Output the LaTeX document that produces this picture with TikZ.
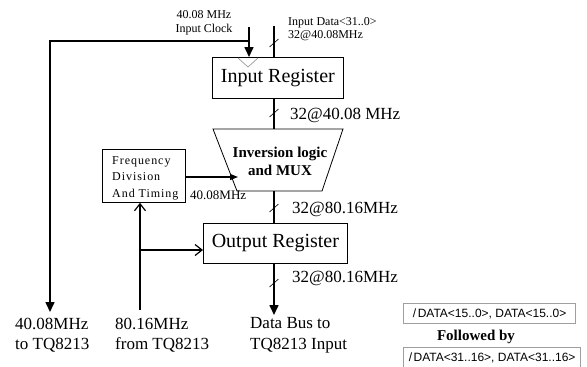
\documentclass[tikz,border=0pt]{standalone}
\usepackage{fontspec}
\setmainfont{Liberation Serif}
\newfontfamily\arialf{Liberation Sans}
\newfontfamily\freqf[LetterSpace=8]{Liberation Serif}
\usetikzlibrary{arrows.meta}
\begin{document}
\begin{tikzpicture}[x=1pt,y=-1pt,
  regbox/.style={draw, line width=0.8pt, inner sep=0pt, anchor=north west, font=\fontsize{20}{24}\selectfont},
  wire/.style={line width=1.6pt},
  fill tip/.style={-{Triangle[length=10pt,width=9pt]}},
  open tip/.style={-{Straight Barb[length=7pt,width=11pt,line width=1.2pt]}},
  lbl/.style={anchor=west, inner sep=0pt},
  big/.style={font=\fontsize{17}{20}\selectfont},
  small/.style={font=\fontsize{12}{14}\selectfont},
  databox/.style={draw=gray!75, line width=1.2pt, inner sep=0pt, anchor=north west, font=\arialf\fontsize{12}{14}\selectfont},
  busmark/.pic={\draw[line width=0.6pt] (-4.5,4) -- (4.5,-4);}
]
\useasboundingbox (0,0) rectangle (587,367);
\clip (0,0) rectangle (587,367);

% boxes
\node[regbox, minimum width=131pt, minimum height=41pt] (inreg) at (212,57) {Input Register};
\node[regbox, minimum width=144pt, minimum height=40pt] (outreg) at (203,223) {Output Register};
\node[draw, line width=0.8pt, anchor=north west, minimum width=83pt, minimum height=53pt, inner sep=0pt] (freq) at (102,149) {};
\node[anchor=north west, inner sep=0pt, align=left, font=\freqf\fontsize{12}{16.5}\selectfont] (freqtxt) at (112,156) {Frequency\\Division\\And Timing};

% mux trapezoid
\coordinate (mtl) at (213,129);
\coordinate (mtr) at (343,129);
\coordinate (mbr) at (322,191);
\coordinate (mbl) at (237,191);
\draw[line width=0.8pt] (mtl) -- (mtr) -- (mbr) -- (mbl) -- cycle;
\node[align=center, font=\bfseries\fontsize{15}{18}\selectfont, inner sep=0pt] (mux) at (280,161) {Inversion logic\\and MUX};
\coordinate (muxtop) at (274,129);
\coordinate (muxbot) at (274,191);
\coordinate (muxin) at (238,177);

% clock
\coordinate (clkin) at (249,27);
\coordinate (clkbr) at (249,41);
\coordinate (clkleft) at (50,41);
\coordinate (clkout) at (50,312);
\draw[wire, fill tip] (clkin) -- (clkin |- inreg.north);
\draw[wire, fill tip] (clkbr) -- (clkleft) -- (clkout);
\draw[gray!80, line width=0.7pt] (238,58) -- (248,67) -- (258,58);

% data path
\coordinate (din) at (274,26);
\draw[wire] (din) -- (din |- inreg.north);
\pic at (274,43) {busmark};
\draw[wire] (inreg.south -| muxtop) -- (muxtop);
\pic at (274,113) {busmark};
\draw[wire] (muxbot) -- (muxbot |- outreg.north);
\pic at (274,208) {busmark};
\coordinate (dout) at (274,315);
\draw[wire, fill tip] (outreg.south -| dout) -- (dout);
\pic at (274,283) {busmark};

% frequency division
\draw[line width=1.3pt, -{Triangle[length=8pt,width=6pt]}] (freq.east |- muxin) -- (muxin);
\coordinate (fin) at (140,310);
\coordinate (fbr) at (140,250);
\draw[wire, open tip] (fin) -- (fin |- freq.south);
\draw[wire, open tip] (fbr) -- (fbr -| outreg.west);

% labels
\node[align=center, small, inner sep=0pt] (clklbl) at (204,23) {40.08 MHz\\Input Clock};
\node[lbl, align=left, font=\fontsize{12}{13.5}\selectfont] (dinlbl) at (288,29) {Input Data<31..0>\\32@40.08MHz};
\node[lbl, big] (l1) at (290,115) {32@40.08 MHz};
\node[lbl, font=\fontsize{13}{15}\selectfont] (l2) at (190,195) {40.08MHz};
\node[lbl, big] (l3) at (292,209) {32@80.16MHz};
\node[lbl, big] (l4) at (292,278) {32@80.16MHz};
\node[lbl, align=left, font=\fontsize{17}{20.5}\selectfont] (b1) at (15,335) {40.08MHz\\to TQ8213};
\node[lbl, align=left, font=\fontsize{17}{20.5}\selectfont] (b2) at (115,335) {80.16MHz\\from TQ8213};
\node[lbl, align=left, font=\fontsize{17}{20.5}\selectfont] (b3) at (250,335) {Data Bus to\\TQ8213 Input};

% data order boxes
\node[databox, minimum width=172pt, minimum height=20pt] (d1) at (403,303) {/\hspace{1.5pt}DATA<15..0>, DATA<15..0>};
\node[font=\bfseries\fontsize{15}{18}\selectfont, inner sep=0pt] (fb) at (476,337) {Followed by};
\node[databox, minimum width=177pt, minimum height=21pt] (d2) at (403,347) {/\hspace{1.5pt}DATA<31..16>, DATA<31..16>};
\end{tikzpicture}
\end{document}
